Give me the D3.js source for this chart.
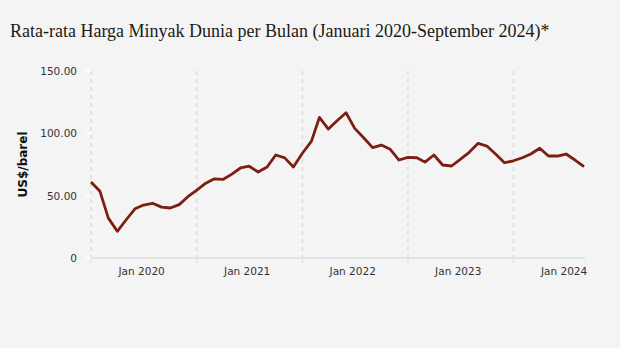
<!DOCTYPE html>
<html>
<head>
<meta charset="utf-8">
<script src="https://cdn.jsdelivr.net/npm/d3@7/dist/d3.min.js"></script>
<style>
  html, body { margin: 0; padding: 0; background: #f4f4f4; }
  svg { display: block; }
</style>
</head>
<body>
<svg id="chart" width="620" height="348"></svg>
<script>
// Monthly average world oil price, Jan 2020 – Sep 2024 (US$/barrel)
const startMonth = "2020-01";
const prices = [
  61.0, 53.5, 32.0, 21.4, 30.5, 39.5, 42.5, 43.9, 40.8, 40.1, 42.8, 49.2,
  54.5, 60.0, 63.4, 63.0, 67.1, 72.2, 73.6, 69.0, 73.0, 82.6, 80.3, 73.0,
  84.0, 93.5, 112.8, 103.4, 110.1, 116.5, 104.0, 96.5, 88.5, 90.6, 87.2, 78.6,
  80.7, 80.4, 76.9, 82.6, 74.6, 73.8, 79.1, 84.8, 92.0, 89.8, 83.2, 76.4,
  78.0, 80.4, 83.4, 88.0, 81.8, 81.8, 83.4, 78.6, 73.2
];
const yTicks = [0, 50, 100, 150];
const yearLabels = ["Jan 2020", "Jan 2021", "Jan 2022", "Jan 2023", "Jan 2024"];

const titleText = "Rata-rata Harga Minyak Dunia per Bulan (Januari 2020-September 2024)*";
const yAxisTitle = "US$/barel";

const parseMonth = d3.timeParse("%Y-%m");
const first = parseMonth(startMonth);
const data = prices.map((v, i) => ({ date: d3.timeMonth.offset(first, i), value: v }));
const years = yearLabels.map((_, i) => new Date(first.getFullYear() + i, 0, 1));

const svg = d3.select("#chart");
const m = { left: 91, right: 584, top: 71, bottom: 258 };

const x = d3.scaleTime()
  .domain(d3.extent(data, d => d.date))
  .range([m.left, m.right]);
const y = d3.scaleLinear().domain([0, 150]).range([m.bottom, m.top]);

// title
svg.append("text")
  .attr("x", 10).attr("y", 37)
  .attr("font-family", "'Liberation Serif', 'Times New Roman', serif")
  .attr("font-size", 18)
  .attr("fill", "#1a1a1a")
  .text(titleText);

// vertical dashed grid lines at each year boundary
svg.append("g").selectAll("line")
  .data(years)
  .join("line")
  .attr("x1", d => x(d)).attr("x2", d => x(d))
  .attr("y1", m.top).attr("y2", m.bottom)
  .attr("stroke", "#dcdcdc")
  .attr("stroke-width", 1.5)
  .attr("stroke-dasharray", "4,4");

// x axis line and tick marks
svg.append("line")
  .attr("x1", m.left).attr("x2", m.right + 1)
  .attr("y1", m.bottom).attr("y2", m.bottom)
  .attr("stroke", "#e3e3e3").attr("stroke-width", 2);
svg.append("g").selectAll("line")
  .data(years)
  .join("line")
  .attr("x1", d => x(d)).attr("x2", d => x(d))
  .attr("y1", m.bottom).attr("y2", m.bottom + 5)
  .attr("stroke", "#e3e3e3").attr("stroke-width", 1.5);

// year labels, centred in each year's band
svg.append("g").selectAll("text")
  .data(years)
  .join("text")
  .attr("x", d => x(d3.timeMonth.offset(d, 6)) - 2)
  .attr("y", 275)
  .attr("text-anchor", "middle")
  .attr("font-family", "Verdana, 'DejaVu Sans', sans-serif")
  .attr("font-size", 10.5)
  .attr("fill", "#333")
  .text((d, i) => yearLabels[i]);

// y tick marks and labels
const fmt = v => v === 0 ? "0" : d3.format(".2f")(v);
const yg = svg.append("g");
yg.selectAll("line")
  .data(yTicks)
  .join("line")
  .attr("x1", m.left - 6).attr("x2", m.left)
  .attr("y1", d => y(d)).attr("y2", d => y(d))
  .attr("stroke", "#ffffff").attr("stroke-width", 1.5);
yg.selectAll("text")
  .data(yTicks)
  .join("text")
  .attr("x", 77)
  .attr("y", d => y(d) + 4)
  .attr("text-anchor", "end")
  .attr("font-family", "Verdana, 'DejaVu Sans', sans-serif")
  .attr("font-size", 10.5)
  .attr("fill", "#333")
  .text(fmt);

// y axis title
svg.append("text")
  .attr("transform", `translate(27, ${(m.top + m.bottom) / 2}) rotate(-90)`)
  .attr("text-anchor", "middle")
  .attr("font-family", "Verdana, 'DejaVu Sans', sans-serif")
  .attr("font-size", 12)
  .attr("font-weight", "bold")
  .attr("fill", "#111")
  .text(yAxisTitle);

// price line
const line = d3.line()
  .x(d => x(d.date))
  .y(d => y(d.value));
svg.append("path")
  .datum(data)
  .attr("d", line)
  .attr("fill", "none")
  .attr("stroke", "#7a1f12")
  .attr("stroke-width", 2.8)
  .attr("stroke-linejoin", "round");
</script>
</body>
</html>
